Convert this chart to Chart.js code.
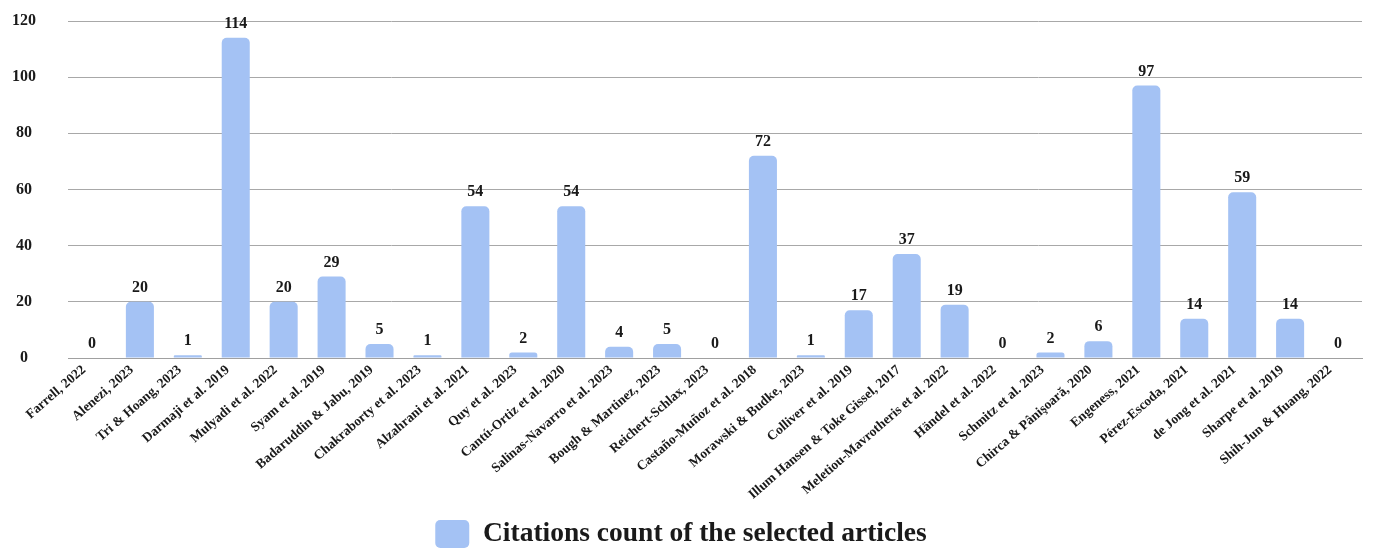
<!DOCTYPE html>
<html>
<head>
<meta charset="utf-8">
<title>Citations count of the selected articles</title>
<script src="https://cdn.jsdelivr.net/npm/chart.js@4.4.1/dist/chart.umd.min.js"></script>
<style>
  html, body { margin: 0; padding: 0; background: #ffffff; overflow: hidden; }
  #wrap { position: relative; width: 1375px; height: 558px; }
</style>
</head>
<body>
<div id="wrap"><canvas id="chart"></canvas></div>
<script>
// Selected articles (x-axis categories)
const articles = [
  "Farrell, 2022",
  "Alenezi, 2023",
  "Tri & Hoang, 2023",
  "Darmaji et al. 2019",
  "Mulyadi et al. 2022",
  "Syam et al. 2019",
  "Badaruddin & Jabu, 2019",
  "Chakraborty et al. 2023",
  "Alzahrani et al. 2021",
  "Quy et al. 2023",
  "Cantú-Ortiz et al. 2020",
  "Salinas-Navarro et al. 2023",
  "Bough & Martinez, 2023",
  "Reichert-Schlax, 2023",
  "Castaño-Muñoz et al. 2018",
  "Morawski & Budke, 2023",
  "Colliver et al. 2019",
  "Illum Hansen & Toke Gissel, 2017",
  "Meletiou-Mavrotheris et al. 2022",
  "Händel et al. 2022",
  "Schmitz et al. 2023",
  "Chirca & Pânişoară, 2020",
  "Engeness, 2021",
  "Pérez-Escoda, 2021",
  "de Jong et al. 2021",
  "Sharpe et al. 2019",
  "Shih-Jun & Huang, 2022"
];

// Citation count for each article
const citations = [0, 20, 1, 114, 20, 29, 5, 1, 54, 2, 54, 4, 5, 0, 72, 1, 17, 37, 19, 0, 2, 6, 97, 14, 59, 14, 0];

// Value axis ticks
const yTicks = [0, 20, 40, 60, 80, 100, 120];

const seriesName = "Citations count of the selected articles";
const barColor = "#a4c2f4";
const textColor = "#1a1a1a";
const serif = "'Liberation Serif', 'DejaVu Serif', serif";

// Writes each bar's value just above it
const valueLabels = {
  id: "valueLabels",
  afterDatasetsDraw(chart) {
    const ctx = chart.ctx;
    const meta = chart.getDatasetMeta(0);
    const values = chart.data.datasets[0].data;
    ctx.save();
    ctx.font = "bold 16px " + serif;
    ctx.fillStyle = textColor;
    ctx.textAlign = "center";
    ctx.textBaseline = "bottom";
    meta.data.forEach((bar, i) => {
      ctx.fillText(String(values[i]), bar.x, bar.y - 6);
    });
    ctx.restore();
  }
};

new Chart(document.getElementById("chart"), {
  type: "bar",
  data: {
    labels: articles,
    datasets: [{
      label: seriesName,
      data: citations,
      backgroundColor: barColor,
      borderWidth: 0,
      borderRadius: { topLeft: 5, topRight: 5, bottomLeft: 0, bottomRight: 0 },
      borderSkipped: false,
      barPercentage: 0.585,
      categoryPercentage: 1.0
    }]
  },
  options: {
    responsive: true,
    maintainAspectRatio: false,
    animation: false,
    layout: { padding: { top: 21, right: 13, left: 0, bottom: 0 } },
    plugins: {
      tooltip: { enabled: false },
      legend: {
        position: "bottom",
        labels: {
          color: textColor,
          font: { family: serif, size: 27.5, weight: "bold" },
          boxWidth: 34,
          boxHeight: 28,
          useBorderRadius: true,
          borderRadius: 5,
          padding: 10
        }
      }
    },
    scales: {
      x: {
        afterFit(axis) { axis.height = 152; },
        grid: { display: false, drawTicks: false },
        border: { display: true, color: "#a0a0a0", width: 1 },
        ticks: {
          color: textColor,
          font: { family: serif, size: 13.5, weight: "bold" },
          minRotation: 41,
          maxRotation: 41,
          autoSkip: false,
          labelOffset: -8,
          padding: 4
        }
      },
      y: {
        min: 0,
        max: 120,
        afterBuildTicks(axis) { axis.ticks = yTicks.map(v => ({ value: v })); },
        afterFit(axis) {
          axis.width = 68;
          // the label gap only pushes text sideways; keep it out of the vertical padding
          axis.paddingTop = 0;
          axis.paddingBottom = 0;
        },
        grid: { color: "#a8a8a8", lineWidth: 1, drawTicks: false },
        border: { display: false },
        ticks: {
          color: textColor,
          font: { family: serif, size: 16, weight: "bold" },
          crossAlign: "center",
          padding: 32
        }
      }
    }
  },
  plugins: [valueLabels]
});
</script>
</body>
</html>
